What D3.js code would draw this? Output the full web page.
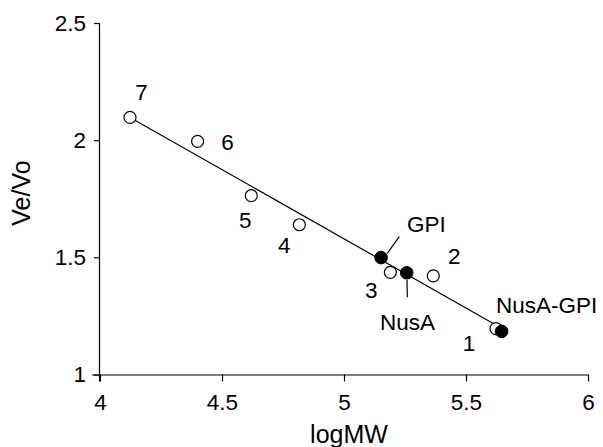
<!DOCTYPE html>
<html>
<head>
<meta charset="utf-8">
<script src="https://cdn.jsdelivr.net/npm/d3@7"></script>
<style>
  body { margin: 0; background: #fff; }
  text { font-family: "Liberation Sans", Arial, sans-serif; fill: #000; }
</style>
</head>
<body>
<div id="chart"></div>
<script>
// standards (open circles)
const stdLabels = ["1", "2", "3", "4", "5", "6", "7"];
const stdLogMW = [5.623, 5.366, 5.19, 4.817, 4.62, 4.40, 4.123];
const stdVeVo = [1.196, 1.421, 1.436, 1.639, 1.763, 1.995, 2.097];

// samples (filled circles)
const sampleNames = ["GPI", "NusA", "NusA-GPI"];
const sampleLogMW = [5.152, 5.257, 5.646];
const sampleVeVo = [1.499, 1.434, 1.184];

// fitted line
const fitX = [4.123, 5.628];
const fitY = [2.097, 1.208];

const xTicks = [4, 4.5, 5, 5.5, 6];
const yTicks = [1, 1.5, 2, 2.5];

const width = 603;
const height = 447;

var svg = d3
  .select("#chart")
  .append("svg")
  .attr("width", width)
  .attr("height", height);

const x = d3.scaleLinear().domain([4, 6]).range([100, 588]);
const y = d3.scaleLinear().domain([1, 2.5]).range([374.5, 23]);

// axes
const xAxis = svg
  .append("g")
  .attr("transform", `translate(0,${y(1)})`)
  .call(d3.axisBottom(x).tickValues(xTicks).tickSize(7).tickPadding(13).tickFormat(d3.format("")));

const yAxis = svg
  .append("g")
  .attr("transform", `translate(${x(4)},0)`)
  .call(d3.axisLeft(y).tickValues(yTicks).tickSize(6).tickPadding(8).tickFormat(d3.format("")));

[xAxis, yAxis].forEach((g) => {
  g.select(".domain").attr("stroke", "#000").attr("stroke-width", 1.2);
  g.selectAll(".tick line").attr("stroke", "#000").attr("stroke-width", 1.2);
  g.selectAll(".tick text")
    .style("font-size", "22.5px")
    .style("font-family", "Liberation Sans, Arial, sans-serif");
});
xAxis.select(".domain").attr("d", `M${x(4) - 8},0.5H${x(6)}`);
yAxis.select(".domain").attr("d", `M-0.5,${y(2.5)}V${y(1) + 7}`);

// axis titles
svg
  .append("text")
  .attr("x", 349)
  .attr("y", 443)
  .attr("text-anchor", "middle")
  .style("font-size", "25px")
  .text("logMW");

svg
  .append("text")
  .attr("transform", `translate(30,193) rotate(-90)`)
  .attr("text-anchor", "middle")
  .style("font-size", "25px")
  .text("Ve/Vo");

// fit line
svg
  .append("line")
  .attr("x1", x(fitX[0]))
  .attr("y1", y(fitY[0]))
  .attr("x2", x(fitX[1]))
  .attr("y2", y(fitY[1]))
  .attr("stroke", "#000")
  .attr("stroke-width", 1.2);

// open circles
svg
  .selectAll("circle.std")
  .data(stdLogMW)
  .enter()
  .append("circle")
  .attr("class", "std")
  .attr("cx", (d) => x(d))
  .attr("cy", (_, i) => y(stdVeVo[i]))
  .attr("r", 6)
  .attr("fill", "#fff")
  .attr("stroke", "#000")
  .attr("stroke-width", 1.2);

// filled circles
svg
  .selectAll("circle.sample")
  .data(sampleLogMW)
  .enter()
  .append("circle")
  .attr("class", "sample")
  .attr("cx", (d) => x(d))
  .attr("cy", (_, i) => y(sampleVeVo[i]))
  .attr("r", 6.3)
  .attr("fill", "#000")
  .attr("stroke", "#000");

// label offsets relative to the points
const stdOffsets = [
  [-27, 15],
  [21, -20],
  [-19, 18],
  [-15, 20],
  [-6, 24],
  [30, 1],
  [11.5, -25],
];
svg
  .selectAll("text.std")
  .data(stdLabels)
  .enter()
  .append("text")
  .attr("class", "std")
  .attr("x", (_, i) => x(stdLogMW[i]) + stdOffsets[i][0])
  .attr("y", (_, i) => y(stdVeVo[i]) + stdOffsets[i][1])
  .attr("text-anchor", "middle")
  .attr("dy", "0.35em")
  .style("font-size", "22.5px")
  .text((d) => d);

// sample labels and leader lines
const sampleText = [
  [407, 232],
  [380, 330],
  [496, 313],
];
svg
  .selectAll("text.sample")
  .data(sampleNames)
  .enter()
  .append("text")
  .attr("class", "sample")
  .attr("x", (_, i) => sampleText[i][0])
  .attr("y", (_, i) => sampleText[i][1])
  .style("font-size", "22.5px")
  .text((d) => d);

const leaders = [
  [[399.3, 236.7], [387.3, 253.3]],
  [[407, 280], [407.3, 297.3]],
];
svg
  .selectAll("line.leader")
  .data(leaders)
  .enter()
  .append("line")
  .attr("class", "leader")
  .attr("x1", (d) => d[0][0])
  .attr("y1", (d) => d[0][1])
  .attr("x2", (d) => d[1][0])
  .attr("y2", (d) => d[1][1])
  .attr("stroke", "#000")
  .attr("stroke-width", 1.2);
</script>
</body>
</html>
